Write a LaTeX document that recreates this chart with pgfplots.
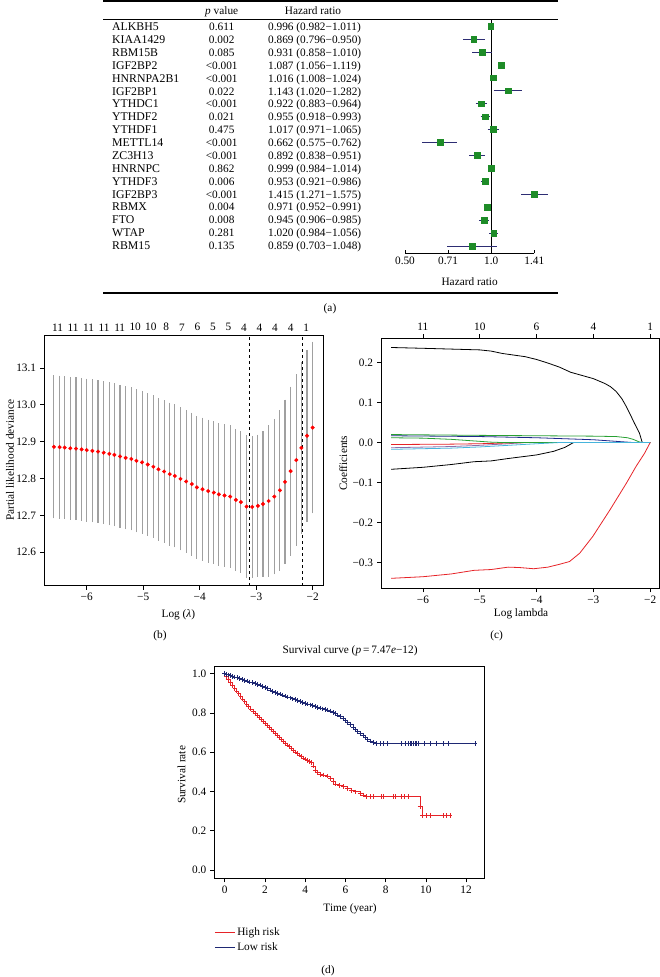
\documentclass[border=0pt]{standalone}
\usepackage{pgfplots}
\pgfplotsset{compat=1.18}
\usepackage{fontspec}
\setmainfont{Liberation Serif}
\definecolor{fgreen}{RGB}{30,140,40}
\definecolor{fnavy}{RGB}{45,45,115}
\definecolor{dgrey}{RGB}{160,160,160}
\definecolor{kmred}{RGB}{230,35,40}
\definecolor{kmblue}{RGB}{30,40,115}
\definecolor{cgreen}{RGB}{40,160,50}
\definecolor{cblue}{RGB}{30,40,140}
\definecolor{ccyan}{RGB}{70,180,220}
\definecolor{cmag}{RGB}{140,110,170}
\newcommand\fs{\fontsize{11.3}{13}\selectfont}
\pgfplotsset{
  rstyle/.style={scale only axis, anchor=south west,
    axis line style={black, line width=0.7pt},
    tick style={black, line width=0.6pt},
    tick align=outside, major tick length=4pt,
    xtick pos=bottom, ytick pos=left,
    tick label style={font=\fs},
    label style={font=\fs}},
  topstyle/.style={scale only axis, anchor=south west,
    axis x line*=top, axis y line=none, axis line style={draw=none},
    tick style={black, line width=0.6pt},
    tick label style={font=\fs}}
}
\begin{document}
\fs
\begin{tikzpicture}[font=\fs]
\path[use as bounding box] (0pt,0pt) rectangle (660pt,-977pt);
% ---------- (a) table ----------
\draw[line width=1.1pt] (103pt,-1pt) -- (558pt,-1pt);
\draw[line width=0.6pt] (103pt,-19.3pt) -- (558pt,-19.3pt);
\draw[line width=1.1pt] (103pt,-293pt) -- (558pt,-293pt);
\node[anchor=base] at (221.7pt,-14.8pt) {\textit{p} value};
\node[anchor=base] at (313pt,-14.8pt) {Hazard ratio};
\foreach \n/\p/\h [count=\i] in {
 ALKBH5/0.611/0.996 (0.982−1.011),
 KIAA1429/0.002/0.869 (0.796−0.950),
 RBM15B/0.085/0.931 (0.858−1.010),
 IGF2BP2/<0.001/1.087 (1.056−1.119),
 HNRNPA2B1/<0.001/1.016 (1.008−1.024),
 IGF2BP1/0.022/1.143 (1.020−1.282),
 YTHDC1/<0.001/0.922 (0.883−0.964),
 YTHDF2/0.021/0.955 (0.918−0.993),
 YTHDF1/0.475/1.017 (0.971−1.065),
 METTL14/<0.001/0.662 (0.575−0.762),
 ZC3H13/<0.001/0.892 (0.838−0.951),
 HNRNPC/0.862/0.999 (0.984−1.014),
 YTHDF3/0.006/0.953 (0.921−0.986),
 IGF2BP3/<0.001/1.415 (1.271−1.575),
 RBMX/0.004/0.971 (0.952−0.991),
 FTO/0.008/0.945 (0.906−0.985),
 WTAP/0.281/1.020 (0.984−1.056),
 RBM15/0.135/0.859 (0.703−1.048)}{
  \pgfmathsetmacro\yy{-(30.6+(\i-1)*12.88)}
  \node[anchor=base west, inner sep=0pt, font=\fontsize{11.8}{13}\selectfont] at (112pt,\yy pt) {\n};
  \node[anchor=base, inner sep=0pt] at (221.7pt,\yy pt) {\p};
  \node[anchor=base west, inner sep=0pt] at (268pt,\yy pt) {\h};
}
\node at (330pt,-309pt) {(a)};
\begin{axis}[at={(405pt,-253.3pt)}, anchor=south west, scale only axis,
  width=129.3pt, height=234pt,
  xmode=log, log basis x=2, xmin=0.5, xmax=1.41421, ymin=0.436, ymax=18.52,
  axis x line*=bottom, axis y line=none, clip=false,
  xtick={0.5,0.70711,1,1.41421}, xticklabels={0.50,0.71,1.0,1.41},
  tick align=inside, major tick length=3.5pt,
  tick style={black, line width=0.7pt},
  axis line style={black, line width=0.7pt, -},
  tick label style={font=\fs},
  xlabel={Hazard ratio},
  xlabel style={at={(axis description cs:0.5,-0.123)}, anchor=center, font=\fs}]
\addplot[black, line width=0.7pt] coordinates {(1,0.436) (1,18.52)};
\addplot[fnavy, line width=0.8pt, unbounded coords=jump] coordinates {
(0.982,18) (1.011,18) (nan,nan)
(0.796,17) (0.950,17) (nan,nan)
(0.858,16) (1.010,16) (nan,nan)
(1.056,15) (1.119,15) (nan,nan)
(1.008,14) (1.024,14) (nan,nan)
(1.020,13) (1.282,13) (nan,nan)
(0.883,12) (0.964,12) (nan,nan)
(0.918,11) (0.993,11) (nan,nan)
(0.971,10) (1.065,10) (nan,nan)
(0.575,9) (0.762,9) (nan,nan)
(0.838,8) (0.951,8) (nan,nan)
(0.984,7) (1.014,7) (nan,nan)
(0.921,6) (0.986,6) (nan,nan)
(1.271,5) (1.575,5) (nan,nan)
(0.952,4) (0.991,4) (nan,nan)
(0.906,3) (0.985,3) (nan,nan)
(0.984,2) (1.056,2) (nan,nan)
(0.703,1) (1.048,1)};
\addplot[only marks, mark=square*, mark size=2.9pt, fgreen] coordinates {
(0.996,18) (0.869,17) (0.931,16) (1.087,15) (1.016,14) (1.143,13)
(0.922,12) (0.955,11) (1.017,10) (0.662,9) (0.892,8) (0.999,7)
(0.953,6) (1.415,5) (0.971,4) (0.945,3) (1.020,2) (0.859,1)};
\end{axis}
% ---------- (b) ----------
\begin{axis}[rstyle, at={(44pt,-585.5pt)}, width=279.3pt, height=250.5pt,
  xmin=-6.756, xmax=-1.812, ymin=12.510, ymax=13.189,
  xtick={-6,-5,-4,-3,-2}, xticklabels={−6,−5,−4,−3,−2},
  ytick={12.6,12.7,12.8,12.9,13.0,13.1},
  yticklabels={12.6,12.7,12.8,12.9,13.0,13.1},
  xlabel={Log (\textit{λ})}, ylabel={Partial likelihood deviance},
  xlabel style={at={(axis description cs:0.481,-0.115)}, anchor=center},
  ylabel style={at={(axis description cs:-0.1217,0.5)}, anchor=center}]
\addplot[only marks, mark=*, mark size=1.8pt, red,
  error bars/.cd, y dir=both, y explicit,
  error bar style={dgrey, line width=1.1pt},
  error mark options={dgrey, line width=1.1pt, mark size=2.5pt}]
  table[x=x, y=y, y error=e] {
x y e
-6.58 12.886 0.187
-6.48 12.885 0.187
-6.39 12.884 0.187
-6.29 12.882 0.187
-6.19 12.881 0.187
-6.09 12.879 0.187
-6.00 12.877 0.187
-5.90 12.875 0.187
-5.80 12.873 0.187
-5.70 12.870 0.187
-5.60 12.867 0.187
-5.51 12.864 0.187
-5.41 12.860 0.187
-5.31 12.856 0.187
-5.21 12.853 0.187
-5.12 12.848 0.187
-5.02 12.844 0.187
-4.92 12.838 0.187
-4.82 12.832 0.187
-4.73 12.825 0.187
-4.63 12.819 0.187
-4.53 12.812 0.187
-4.44 12.807 0.187
-4.34 12.799 0.187
-4.24 12.792 0.187
-4.14 12.785 0.187
-4.05 12.776 0.187
-3.95 12.771 0.187
-3.85 12.766 0.187
-3.75 12.762 0.187
-3.66 12.757 0.187
-3.56 12.754 0.186
-3.46 12.751 0.186
-3.36 12.742 0.186
-3.27 12.736 0.186
-3.17 12.724 0.186
-3.07 12.723 0.186
-2.97 12.726 0.186
-2.88 12.731 0.190
-2.78 12.739 0.198
-2.68 12.751 0.204
-2.58 12.768 0.211
-2.49 12.791 0.216
-2.39 12.820 0.222
-2.29 12.850 0.226
-2.20 12.883 0.226
-2.10 12.916 0.226
-2.00 12.938 0.226
};
\addplot[black, dashed, line width=0.7pt] coordinates {(-3.115,12.510) (-3.115,13.189)};
\addplot[black, dashed, line width=0.7pt] coordinates {(-2.184,12.510) (-2.184,13.189)};
\end{axis}
\begin{axis}[topstyle, at={(44pt,-585.5pt)}, width=279.3pt, height=250.5pt,
  xmin=-6.756, xmax=-1.812, ymin=12.510, ymax=13.189, major tick length=0pt,
  xtick={-6.516,-6.241,-5.966,-5.691,-5.416,-5.141,-4.866,-4.591,-4.316,-4.041,-3.766,-3.491,-3.216,-2.941,-2.666,-2.391,-2.116},
  xticklabels={11,11,11,11,11,10,10,8,7,6,5,5,4,4,4,4,1}]
\addplot[draw=none] coordinates {(-4,12.8)};
\end{axis}
\node at (160pt,-636pt) {(b)};
% ---------- (c) ----------
\begin{axis}[rstyle, at={(381pt,-588.3pt)}, width=278pt, height=250pt,
  xmin=-6.738, xmax=-1.845, ymin=-0.365, ymax=0.261,
  xtick={-6,-5,-4,-3,-2}, xticklabels={−6,−5,−4,−3,−2},
  ytick={-0.3,-0.2,-0.1,0,0.1,0.2},
  yticklabels={−0.3,−0.2,−0.1,0.0,0.1,0.2},
  xlabel={Log lambda}, ylabel={Coefficients},
  xlabel style={at={(axis description cs:0.504,-0.103)}, anchor=center},
  ylabel style={at={(axis description cs:-0.1356,0.5)}, anchor=center},
  every axis plot/.append style={line width=0.8pt}]
\addplot[cmag] coordinates {(-6.56,-0.013) (-5.5,-0.010) (-5,-0.007) (-4.5,-0.003) (-4.2,0) (-2,0)};
\addplot[kmred] coordinates {(-6.56,-0.005) (-5.5,-0.004) (-5,-0.003) (-4.5,-0.001) (-4.2,0) (-2,0)};
\addplot[cgreen] coordinates {(-6.56,0.012) (-6,0.011) (-5.5,0.008) (-5.1,0.004) (-4.8,0.001) (-4.6,0) (-2,0)};
\addplot[black] coordinates {(-6.56,-0.067) (-6.0,-0.062) (-5.5,-0.055) (-5.1,-0.048) (-4.8,-0.046) (-4.5,-0.040) (-4.0,-0.031) (-3.7,-0.022) (-3.5,-0.012) (-3.4,-0.004) (-3.35,0) (-2,0)};
\addplot[cblue] coordinates {(-6.56,0.017) (-5,0.015) (-4,0.012) (-3,0.007) (-2.5,0.002) (-2.3,0) (-2,0)};
\addplot[cgreen] coordinates {(-6.56,0.020) (-5,0.018) (-4,0.017) (-3,0.016) (-2.6,0.015) (-2.4,0.012) (-2.3,0.008) (-2.2,0.002) (-2.15,0) (-2.0,0)};
\addplot[black] coordinates {(-6.56,0.238) (-6.0,0.236) (-5.5,0.234) (-5.0,0.232) (-4.8,0.229) (-4.6,0.223) (-4.4,0.219) (-4.2,0.215) (-4.0,0.208) (-3.8,0.199) (-3.6,0.189) (-3.4,0.176) (-3.3,0.172) (-3.0,0.160) (-2.8,0.148) (-2.7,0.140) (-2.6,0.128) (-2.5,0.110) (-2.42,0.090) (-2.35,0.070) (-2.28,0.049) (-2.19,0.024) (-2.14,0) (-2.0,0)};
\addplot[kmred] coordinates {(-6.56,-0.340) (-6.0,-0.336) (-5.5,-0.329) (-5.1,-0.320) (-4.8,-0.318) (-4.5,-0.312) (-4.3,-0.313) (-4.05,-0.316) (-3.8,-0.312) (-3.6,-0.305) (-3.42,-0.298) (-3.24,-0.277) (-3.01,-0.235) (-2.71,-0.169) (-2.42,-0.102) (-2.25,-0.060) (-2.10,-0.027) (-2.0,0)};
\addplot[ccyan] coordinates {(-6.56,-0.017) (-5.5,-0.014) (-5,-0.011) (-4.5,-0.007) (-4,-0.003) (-3.6,0) (-2,0)};
\end{axis}
\begin{axis}[topstyle, at={(381pt,-588.3pt)}, width=278pt, height=250pt,
  xmin=-6.738, xmax=-1.845, ymin=-0.365, ymax=0.261,
  tick align=outside, major tick length=4pt,
  xtick={-6,-5,-4,-3,-2}, xticklabels={11,10,6,4,1}]
\addplot[draw=none] coordinates {(-4,0)};
\end{axis}
\node at (496.7pt,-636pt) {(c)};
% ---------- (d) ----------
\begin{axis}[rstyle, at={(214.3pt,-878.3pt)}, width=270pt, height=212.3pt,
  xmin=-0.52, xmax=12.91, ymin=-0.042, ymax=1.039,
  xtick={0,2,4,6,8,10,12}, xticklabels={0,2,4,6,8,10,12},
  ytick={0,0.2,0.4,0.6,0.8,1.0}, yticklabels={0.0,0.2,0.4,0.6,0.8,1.0},
  title={Survival curve (\textit{p}\,=\,7.47\textit{e}−12)},
  title style={at={(axis description cs:0.503,1.044)}, anchor=center, font=\fs},
  xlabel={Time (year)}, ylabel={Survival rate},
  xlabel style={at={(axis description cs:0.503,-0.145)}, anchor=center},
  ylabel style={at={(axis description cs:-0.121,0.487)}, anchor=center},
  legend style={draw=none, fill=none, at={(axis description cs:0,-0.222)}, anchor=north west,
    inner sep=0pt, row sep=1.5pt, font=\fs,
    /tikz/every even column/.append style={column sep=6pt}},
  legend cell align=left,
  legend image code/.code={\draw[#1] (0pt,0pt) -- (20pt,0pt);}]
\addplot[kmred, line width=0.8pt, const plot, mark=+, mark size=2.3pt, mark options={kmred, line width=0.8pt}] coordinates {
(0,1.000) (0.1,0.985) (0.2,0.970) (0.3,0.955) (0.4,0.940) (0.5,0.925)
(0.6,0.912) (0.7,0.898) (0.8,0.884) (0.9,0.870) (1.0,0.857) (1.1,0.844)
(1.2,0.832) (1.3,0.820) (1.4,0.808) (1.5,0.797) (1.6,0.787) (1.7,0.777)
(1.8,0.767) (1.9,0.757) (2.0,0.747) (2.1,0.737) (2.2,0.727) (2.3,0.717)
(2.4,0.707) (2.5,0.697) (2.6,0.687) (2.7,0.677) (2.8,0.667) (2.9,0.657)
(3.0,0.647) (3.1,0.637) (3.2,0.628) (3.3,0.619) (3.4,0.610) (3.5,0.601)
(3.6,0.593) (3.7,0.585) (3.8,0.578) (3.9,0.571) (4.0,0.565) (4.1,0.559)
(4.2,0.553) (4.3,0.547) (4.4,0.530) (4.5,0.505) (4.6,0.497) (4.75,0.488)
(4.9,0.484) (5.1,0.478) (5.25,0.466) (5.4,0.450) (5.5,0.438) (5.7,0.430)
(5.9,0.424) (6.1,0.416) (6.3,0.405) (6.5,0.398) (6.73,0.390) (6.9,0.382)
(7.06,0.375) (7.23,0.375) (7.39,0.375) (7.81,0.375) (7.89,0.375) (8.39,0.375)
(8.47,0.375) (8.8,0.375) (8.92,0.375) (9.13,0.375) (9.71,0.323) (9.85,0.277)
(10.05,0.277) (10.21,0.277) (10.87,0.277) (11.04,0.277) (11.2,0.277)};
\addlegendentry{High risk}
\addplot[kmblue, line width=0.8pt, const plot, mark=+, mark size=2.3pt, mark options={kmblue, line width=0.8pt}] coordinates {
(0,1.000) (0.08,0.997) (0.2,0.994) (0.3,0.990) (0.4,0.986) (0.5,0.983)
(0.62,0.979) (0.75,0.975) (0.88,0.970) (1.0,0.966) (1.12,0.962) (1.25,0.958)
(1.38,0.954) (1.5,0.950) (1.62,0.946) (1.75,0.942) (1.88,0.936) (2.0,0.930)
(2.12,0.924) (2.25,0.917) (2.38,0.910) (2.5,0.905) (2.62,0.900) (2.75,0.896)
(2.88,0.891) (3.0,0.886) (3.12,0.881) (3.25,0.877) (3.38,0.872) (3.5,0.867)
(3.62,0.862) (3.75,0.857) (3.88,0.853) (4.0,0.849) (4.12,0.845) (4.25,0.841)
(4.38,0.837) (4.5,0.833) (4.62,0.829) (4.75,0.825) (4.88,0.821) (5.0,0.818)
(5.12,0.815) (5.25,0.810) (5.38,0.803) (5.5,0.796) (5.62,0.789) (5.75,0.781)
(5.88,0.772) (6.0,0.762) (6.12,0.752) (6.25,0.740) (6.38,0.727) (6.5,0.715)
(6.62,0.704) (6.75,0.694) (6.88,0.684) (7.0,0.674) (7.12,0.665) (7.25,0.657)
(7.4,0.650) (7.56,0.645) (7.72,0.645) (7.89,0.645) (8.09,0.645) (8.80,0.645)
(8.97,0.645) (9.13,0.645) (9.22,0.645) (9.30,0.645) (9.38,0.645) (9.47,0.645)
(9.55,0.645) (9.63,0.645) (9.91,0.645) (10.21,0.645) (10.51,0.645) (10.87,0.645)
(11.12,0.645) (12.45,0.645)};
\addlegendentry{Low risk}
\end{axis}
\node at (328pt,-971pt) {(d)};
\end{tikzpicture}
\end{document}
